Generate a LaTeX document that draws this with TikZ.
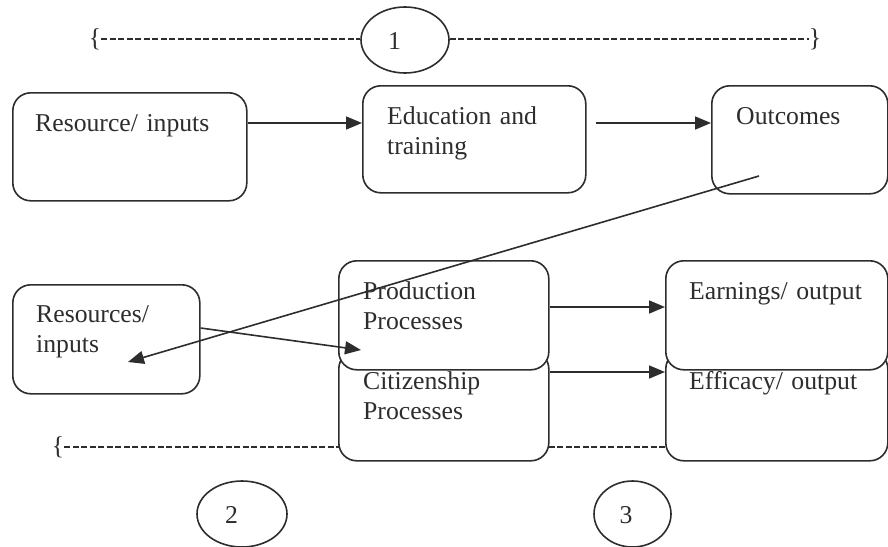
\documentclass[tikz,border=0pt]{standalone}
\usepackage{fontspec}
\setmainfont{Liberation Serif}
\usetikzlibrary{arrows.meta,shapes.geometric,calc}
\definecolor{ink}{RGB}{45,45,45}
\begin{document}
\begin{tikzpicture}[x=1pt,y=-1pt,
  box/.style={draw=ink, line width=1.6pt, rounded corners=18pt, fill=white, anchor=north west, inner sep=0pt},
  txt/.style={text=ink, font=\fontsize{25.7}{30}\selectfont, inner sep=0pt, anchor=base west, text width=220pt, align=left},
  brace/.style={text=ink, font=\fontsize{25.7}{30}\selectfont, inner sep=0pt, anchor=center},
  numell/.style={draw=ink, line width=1.6pt, ellipse, inner sep=0pt, fill=white, minimum height=66pt},
  arr/.style={draw=ink, line width=1.6pt, -{Triangle[length=16pt,width=13pt]}},
  dashline/.style={draw=ink, line width=1.6pt, dash pattern=on 6pt off 2.5pt}]
\useasboundingbox (0,0) rectangle (888,546);
\clip (0,0) rectangle (888,546);

% top bracket with circle 1
\node[brace] (lb1) at (95,39) {\{};
\node[brace] (rb1) at (815,39) {\}};
\node[numell, minimum width=88pt] (n1) at (405,40) {};
\node[txt, text width=20pt] at (388,49) {1};
\draw[dashline] (lb1.east) -- (lb1.east -| n1.west);
\draw[dashline] (rb1.west -| n1.east) -- (rb1.west);

% bottom bracket (runs behind the lower boxes)
\node[brace] (lb2) at (58,447) {\{};
\coordinate (dEnd) at (665,447);
\draw[dashline] (lb2.east) -- (dEnd);

% top row
\node[box, minimum width=234pt, minimum height=108pt] (A) at (12,92) {};
\node[box, minimum width=223pt, minimum height=107pt] (B) at (362,85) {};
\node[box, minimum width=176pt, minimum height=108pt] (C) at (711,85) {};
\node[txt] at (35,131) {Resource/ inputs};
\node[txt] at (387,124) {Education and\\training};
\node[txt] at (736,124) {Outcomes};

% lower row
\node[box, minimum width=187pt, minimum height=109pt] (D) at (12,284) {};
\node[box, minimum width=210pt, minimum height=110pt] (F) at (338,350) {};
\node[box, minimum width=222pt, minimum height=110pt] (H) at (665,350) {};
\node[box, minimum width=210pt, minimum height=109pt] (E) at (338,260) {};
\node[box, minimum width=222pt, minimum height=109pt] (G) at (665,260) {};
\node[txt] at (36,322) {Resources/\\inputs};
\node[txt] at (363,299) {Production\\Processes};
\node[txt] at (363,389) {Citizenship\\Processes};
\node[txt] at (689,299) {Earnings/ output};
\node[txt] at (689,389) {Efficacy/ output};

% bottom circles
\node[numell, minimum width=90pt] (n2) at (242,514) {};
\node[txt, text width=20pt] at (225,523) {2};
\node[numell, minimum width=77pt] (n3) at (632.5,514) {};
\node[txt, text width=20pt] at (619.5,523) {3};

% connectors
\coordinate (a1) at ($(A.north east)+(0,31)$);
\draw[arr] (a1) -- (B.west |- a1);
\coordinate (b1) at ($(B.north east)+(9,38)$);
\draw[arr] (b1) -- (C.west |- b1);
\coordinate (c1) at ($(C.north west)+(48,91)$);
\coordinate (d1) at ($(D.north west)+(116,78)$);
\draw[arr] (c1) -- (d1);
\coordinate (d2) at ($(D.north east)+(0,44)$);
\coordinate (ein) at ($(E.north west)+(23,90)$);
\draw[arr] (d2) -- (ein);
\coordinate (e2) at ($(E.north east)+(0,47)$);
\draw[arr] (e2) -- (G.west |- e2);
\coordinate (f1) at ($(F.north east)+(0,22)$);
\draw[arr] (f1) -- (H.west |- f1);
\end{tikzpicture}
\end{document}
